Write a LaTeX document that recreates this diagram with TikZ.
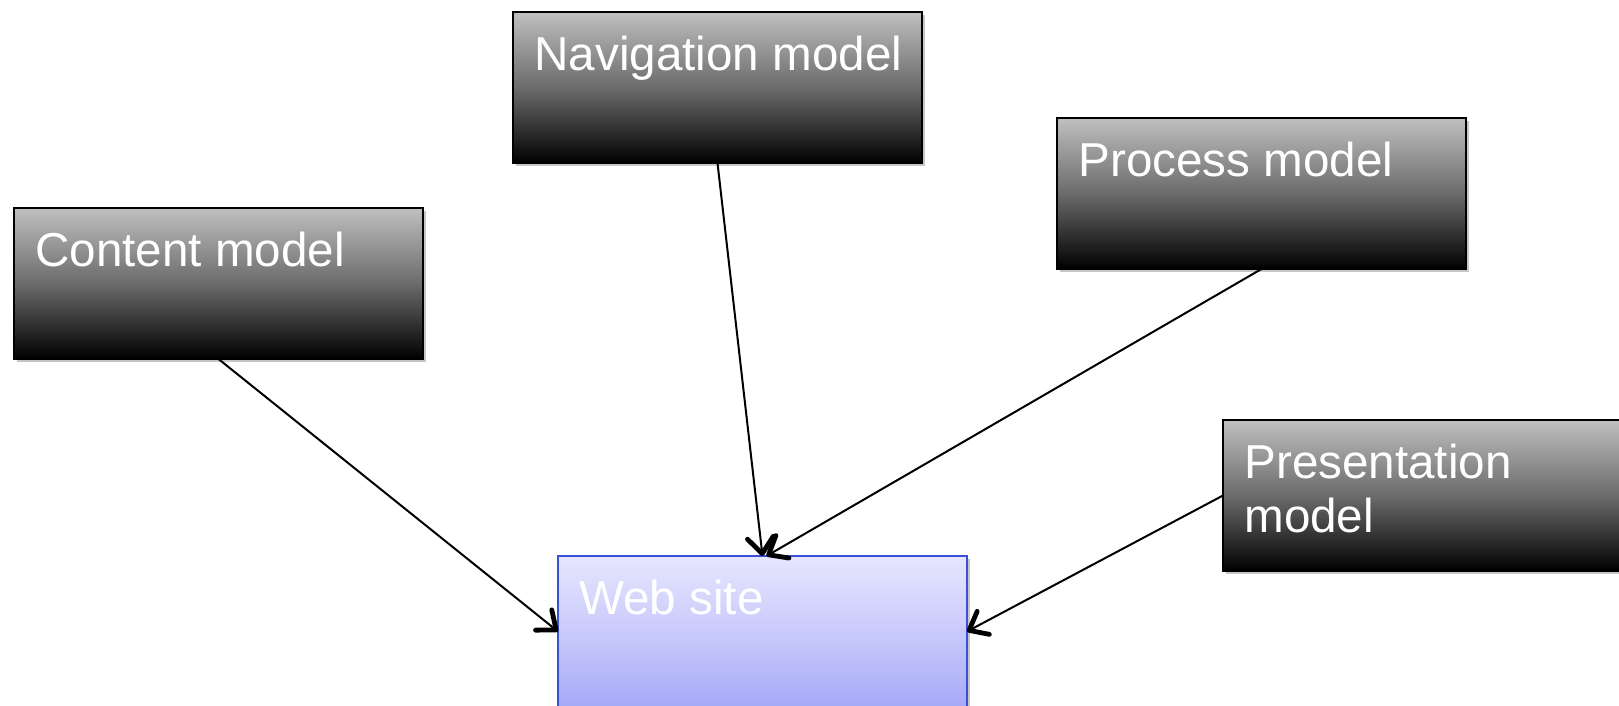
\documentclass[tikz,border=0pt]{standalone}
\usepackage{fontspec}
\setmainfont{Liberation Sans}
\usepackage{tikz}
\usetikzlibrary{shadows, arrows.meta}
\definecolor{siteTop}{RGB}{230,230,255}
\definecolor{siteMid}{RGB}{201,202,251}
\definecolor{siteBot}{RGB}{166,169,247}
\definecolor{siteLine}{RGB}{59,80,217}

\begin{document}
\begin{tikzpicture}[x=0.5pt, y=-0.5pt, % 1 像素 = 0.5pt
    model/.style={rectangle, draw=black, line width=0.6pt, inner sep=0pt, outer sep=0pt,
        minimum width=204.5pt, minimum height=75.5pt, anchor=north west,
        top color=black!25, bottom color=black, middle color=black!58,
        drop shadow={shadow xshift=1.5pt, shadow yshift=-1.5pt, opacity=0.45}},
    site/.style={model, draw=siteLine, top color=siteTop, bottom color=siteBot, middle color=siteMid},
    title/.style={anchor=north west, inner sep=0pt, xshift=10.5pt, yshift=-12pt,
        text=white, align=left, font=\fontsize{23.8}{27}\selectfont},
    link/.style={-{Straight Barb[length=8pt, width=13pt, line width=2.4pt, round]}, line width=1pt}]
    \useasboundingbox (0,0) rectangle (1619,706);
    \clip (0,0) rectangle (1619,706);
    % 各模型方框
    \node[model, label={[title]north west:Content model}] (content) at (14,208) {};
    \node[model, label={[title]north west:Navigation model}] (navigation) at (513,12) {};
    \node[model, label={[title]north west:Process model}] (process) at (1057,118) {};
    \node[model, label={[title]north west:Presentation\\model}] (presentation) at (1223,420) {};
    \node[site, label={[title]north west:Web site}] (web) at (558,556) {};
    % 连线
    \draw[link] (content.south) -- (web.west);
    \draw[link] (navigation.south) -- (web.north);
    \draw[link] (process.south) -- ([xshift=2pt]web.north);
    \draw[link] (presentation.west) -- (web.east);
\end{tikzpicture}
\end{document}
